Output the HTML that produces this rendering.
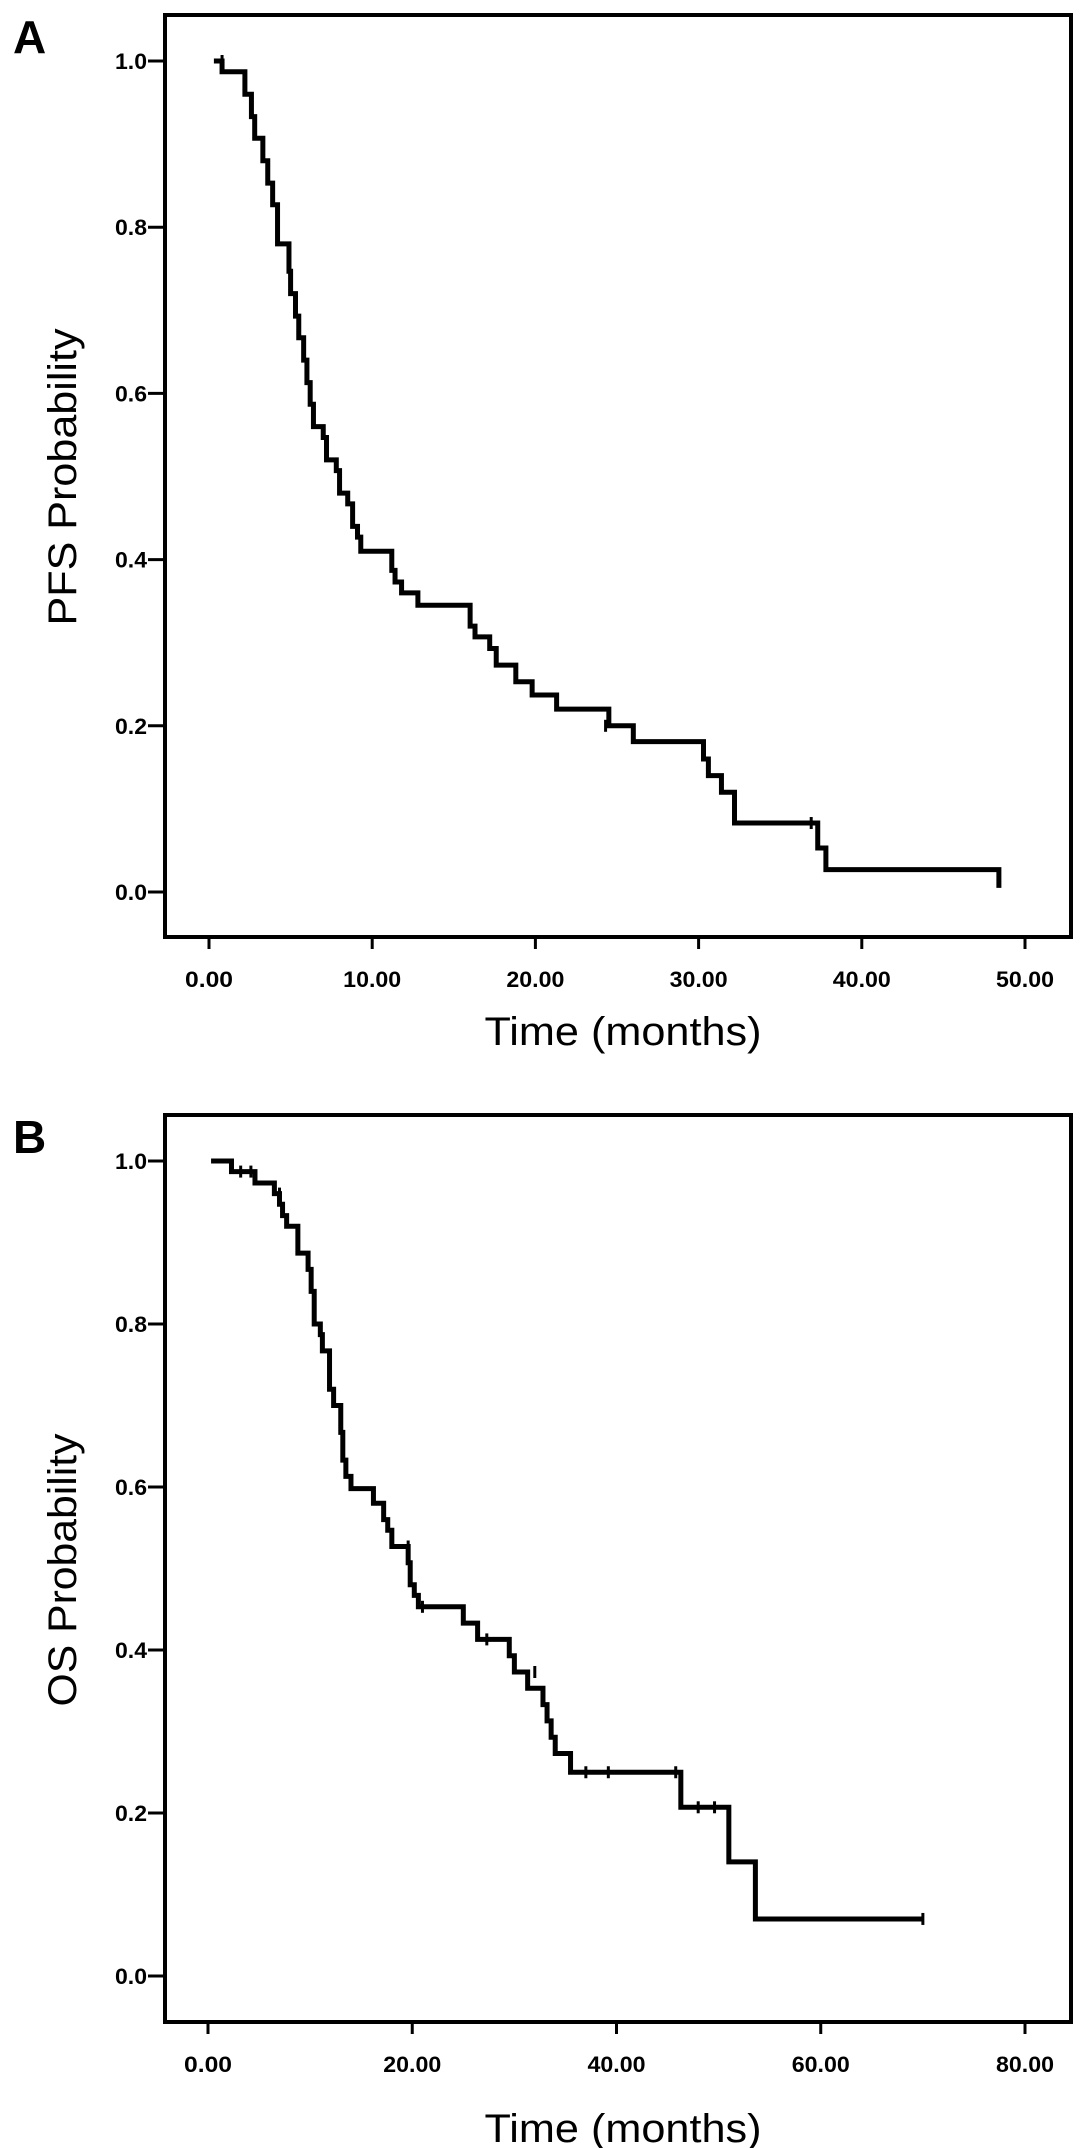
<!DOCTYPE html>
<html><head><meta charset="utf-8"><style>
html,body{margin:0;padding:0;background:#fff;}
svg{display:block;font-family:"Liberation Sans",Arial,sans-serif;}
</style></head><body>
<svg id="fig" width="1087" height="2148" viewBox="0 0 1087 2148">
<text x="13" y="53" font-size="46" font-weight="bold">A</text>
<text x="13" y="1153" font-size="46" font-weight="bold">B</text>
<g id="panelA"></g>
<g id="panelB"></g>
</svg>
<script>
// Panel A (PFS) data
const pfsTimes = [0.8,2.2,2.6,2.8,3.3,3.6,3.9,4.2,4.9,5.0,5.3,5.5,5.8,6.0,6.2,6.4,7.0,7.2,7.8,8.0,8.5,8.8,9.1,9.3,11.2,11.4,11.8,12.8,16.0,16.3,17.2,17.6,18.8,19.8,21.3,24.5,26.0,30.3,30.6,31.4,32.2,37.3,37.8,48.4];
const pfsProbs = [0.987,0.96,0.933,0.907,0.88,0.853,0.827,0.78,0.747,0.72,0.693,0.667,0.64,0.613,0.587,0.56,0.547,0.52,0.507,0.48,0.467,0.44,0.427,0.41,0.387,0.373,0.36,0.345,0.32,0.307,0.293,0.273,0.253,0.237,0.22,0.2,0.181,0.16,0.14,0.12,0.083,0.053,0.027,0.005];
const pfsCensorT = [0.8,24.3,36.9];
const pfsCensorP = [1.0,0.2,0.083];
const pfsXTicks = [0,10,20,30,40,50];
const pfsXLabels = ["0.00","10.00","20.00","30.00","40.00","50.00"];
// Panel B (OS) data
const osTimes = [2.3,4.6,6.5,7.0,7.3,7.7,8.8,9.8,10.1,10.4,11.0,11.2,11.9,12.3,13.0,13.2,13.5,14.0,16.2,17.2,17.6,18.0,19.6,19.8,20.2,20.6,25.0,26.4,29.5,30.0,31.3,32.8,33.2,33.6,34.0,35.5,46.3,51.0,53.6];
const osProbs = [0.987,0.973,0.96,0.947,0.933,0.92,0.887,0.867,0.84,0.8,0.787,0.767,0.72,0.7,0.667,0.633,0.613,0.598,0.58,0.56,0.547,0.527,0.507,0.48,0.467,0.453,0.433,0.413,0.393,0.373,0.353,0.333,0.313,0.293,0.273,0.25,0.207,0.14,0.07];
const osEnd = 70.0;
const osCensorT = [3.2,4.2,7.0,19.6,21.0,27.3,32.0,37.0,39.2,45.8,48.0,49.6,70.0];
const osCensorP = [0.987,0.987,0.96,0.527,0.453,0.413,0.373,0.25,0.25,0.25,0.207,0.207,0.07];
const osXTicks = [0,20,40,60,80];
const osXLabels = ["0.00","20.00","40.00","60.00","80.00"];
const yTicks = [0,0.2,0.4,0.6,0.8,1.0];
const yLabels = ["0.0","0.2","0.4","0.6","0.8","1.0"];

const NS="http://www.w3.org/2000/svg";
function mk(tag,attrs,parent){const e=document.createElementNS(NS,tag);for(const k in attrs)e.setAttribute(k,attrs[k]);parent.appendChild(e);return e;}

function drawPanel(g,cfg){
  const xs=v=>cfg.x0+(v-0)/cfg.xmax*(cfg.x1-cfg.x0);
  const ys=v=>cfg.y0+(v)*(cfg.y1-cfg.y0);
  const fr=mk('rect',{x:cfg.L,y:cfg.T,width:cfg.R-cfg.L,height:cfg.B-cfg.T,fill:'none',stroke:'#000','stroke-width':4},g);
  
  
  cfg.xticks.forEach((t,i)=>{
    const l=mk('line',{x1:xs(t),x2:xs(t),y1:cfg.B,y2:cfg.B+12,stroke:'#000','stroke-width':3},g);
    
    
    const tx=mk('text',{x:xs(t),y:cfg.B+50,'text-anchor':'middle','font-size':22,'font-weight':'bold',textLength:cfg.xlabels[i].length>4?58:48,lengthAdjust:'spacingAndGlyphs'},g);
    tx.textContent=cfg.xlabels[i];
    
    
  });
  yTicks.forEach((t,i)=>{
    const l=mk('line',{x1:cfg.L-17,x2:cfg.L,y1:ys(t),y2:ys(t),stroke:'#000','stroke-width':3},g);
    
    
    const tx=mk('text',{x:cfg.L-18,y:ys(t)+8,'text-anchor':'end','font-size':22,'font-weight':'bold',textLength:32,lengthAdjust:'spacingAndGlyphs'},g);
    tx.textContent=yLabels[i];
    
    
  });
  // step curve
  let d='M'+xs(0.3)+','+ys(1);
  let prev=1;
  cfg.times.forEach((t,i)=>{d+=' L'+xs(t)+','+ys(prev)+' L'+xs(t)+','+ys(cfg.probs[i]);prev=cfg.probs[i];});
  if(cfg.end)d+=' L'+xs(cfg.end)+','+ys(prev);
  const p=mk('path',{d:d,fill:'none',stroke:'#000','stroke-width':5,'stroke-linejoin':'miter'},g);
  
  
  cfg.ct.forEach((t,i)=>{
    const c=mk('line',{x1:xs(t),x2:xs(t),y1:ys(cfg.cp[i])-6,y2:ys(cfg.cp[i])+6,stroke:'#000','stroke-width':3},g);
    
    
  });
  const xt=mk('text',{x:623,y:cfg.xtY,'text-anchor':'middle','font-size':40,textLength:277,lengthAdjust:'spacingAndGlyphs'},g);
  xt.textContent='Time (months)';
  
  
  const yt=mk('text',{x:0,y:0,'text-anchor':'middle','font-size':40,textLength:cfg.ytLen,lengthAdjust:'spacingAndGlyphs',transform:'translate(76,'+cfg.ytC+') rotate(-90)'},g);
  yt.textContent=cfg.ytitle;
  
  
}
drawPanel(document.getElementById('panelA'),{L:165,R:1071,T:15,B:937,x0:209,x1:1025,xmax:50,y0:892,y1:61,
  xticks:pfsXTicks,xlabels:pfsXLabels,times:pfsTimes,probs:pfsProbs,end:0,ct:pfsCensorT,cp:pfsCensorP,
  xtY:1045,ytitle:'PFS Probability',ytLen:297,ytC:477});
drawPanel(document.getElementById('panelB'),{L:165,R:1071,T:1115,B:2022,x0:208,x1:1025,xmax:80,y0:1976,y1:1161,
  xticks:osXTicks,xlabels:osXLabels,times:osTimes,probs:osProbs,end:osEnd,ct:osCensorT,cp:osCensorP,
  xtY:2142,ytitle:'OS Probability',ytLen:273,ytC:1570});
</script>
</body></html>
